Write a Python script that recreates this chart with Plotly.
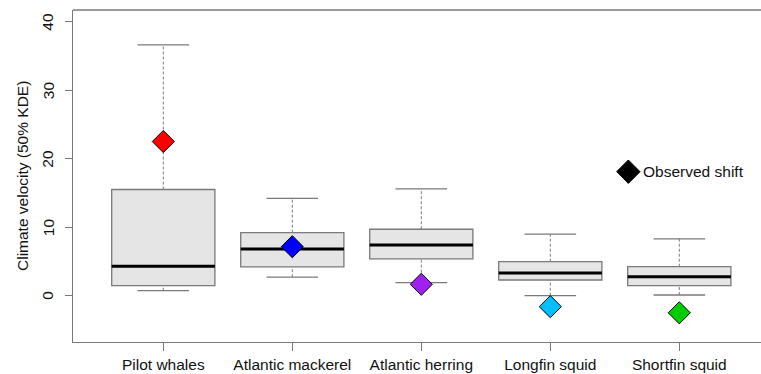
import plotly.graph_objects as go

species = ["Pilot whales", "Atlantic mackerel", "Atlantic herring", "Longfin squid", "Shortfin squid"]
lower_whisker = [0.73, 2.7, 1.9, 0.0, 0.1]
q1 = [1.46, 4.2, 5.36, 2.29, 1.46]
median = [4.3, 6.8, 7.4, 3.3, 2.77]
q3 = [15.5, 9.2, 9.7, 4.96, 4.23]
upper_whisker = [36.6, 14.2, 15.6, 9.0, 8.3]
observed_shift = [22.5, 7.15, 1.66, -1.6, -2.5]
shift_colors = ["#FF0000", "#0000FF", "#A020F0", "#00BFFF", "#00CD00"]
y_ticks = [0, 10, 20, 30, 40]
y_title = "Climate velocity (50% KDE)"
legend_label = "Observed shift"
legend_pos = (4.605, 18.1)

BOX_HALF = 0.4
CAP_HALF = 0.2
GRAY = "#7a7a7a"
TXT = "#111"
FONT = "Liberation Sans, Arial, sans-serif"
FS = 15.5

xs = list(range(1, len(species) + 1))
shapes = []
for i, x in enumerate(xs):
    # whisker stems (dashed)
    shapes.append(dict(type="line", xref="x", yref="y", x0=x, x1=x, y0=q3[i], y1=upper_whisker[i],
                       line=dict(color=GRAY, width=1, dash="3px,2px"), layer="below"))
    shapes.append(dict(type="line", xref="x", yref="y", x0=x, x1=x, y0=lower_whisker[i], y1=q1[i],
                       line=dict(color=GRAY, width=1, dash="3px,2px"), layer="below"))
    # caps
    for v in (upper_whisker[i], lower_whisker[i]):
        shapes.append(dict(type="line", xref="x", yref="y", x0=x - CAP_HALF, x1=x + CAP_HALF, y0=v, y1=v,
                           line=dict(color=GRAY, width=1.3), layer="below"))
    # box
    shapes.append(dict(type="rect", xref="x", yref="y", x0=x - BOX_HALF, x1=x + BOX_HALF, y0=q1[i], y1=q3[i],
                       fillcolor="#E5E5E5", line=dict(color=GRAY, width=1.3), layer="below"))
    # median
    shapes.append(dict(type="line", xref="x", yref="y", x0=x - BOX_HALF, x1=x + BOX_HALF, y0=median[i], y1=median[i],
                       line=dict(color="black", width=3), layer="below"))

# top frame line
shapes.append(dict(type="line", xref="paper", yref="paper", x0=0, x1=1, y0=1, y1=1,
                   line=dict(color=GRAY, width=1.3)))

fig = go.Figure()
fig.add_trace(go.Scatter(
    x=xs, y=observed_shift, mode="markers",
    marker=dict(symbol="diamond", size=17, color=shift_colors, line=dict(color="black", width=1)),
    showlegend=False, hoverinfo="skip"))
fig.add_trace(go.Scatter(
    x=[legend_pos[0]], y=[legend_pos[1]], mode="markers",
    marker=dict(symbol="diamond", size=18, color="black", line=dict(color="black", width=1)),
    showlegend=False, hoverinfo="skip"))

fig.add_annotation(x=legend_pos[0], y=legend_pos[1], xref="x", yref="y", text=legend_label,
                   showarrow=False, xanchor="left", yanchor="middle", xshift=13,
                   font=dict(family=FONT, size=FS, color=TXT))

# y tick labels (rotated, R style)
for t in y_ticks:
    fig.add_annotation(x=0, y=t, xref="paper", yref="y", text=str(t), textangle=-90,
                       showarrow=False, xanchor="center", yanchor="middle", xshift=-25,
                       font=dict(family=FONT, size=FS, color=TXT))
# y title
fig.add_annotation(x=0, y=0.5, xref="paper", yref="paper", text=y_title, textangle=-90,
                   showarrow=False, xanchor="center", yanchor="middle", xshift=-51,
                   font=dict(family=FONT, size=FS, color=TXT))

fig.update_layout(
    width=761, height=374,
    margin=dict(l=73, r=0, t=10, b=32),
    paper_bgcolor="white", plot_bgcolor="white",
    shapes=shapes,
    font=dict(family=FONT, size=FS, color=TXT),
    xaxis=dict(range=[0.3, 0.3 + 688 / 129], tickvals=xs, ticktext=species,
               showgrid=False, zeroline=False, showline=True, linecolor=GRAY, linewidth=1.3,
               ticks="outside", ticklen=8, tickcolor=GRAY, tickwidth=1.3),
    yaxis=dict(range=[-6.76, 41.7], tickvals=y_ticks, showticklabels=False,
               showgrid=False, zeroline=False, showline=True, linecolor=GRAY, linewidth=1.3,
               ticks="outside", ticklen=7, tickcolor=GRAY, tickwidth=1.3),
)

fig.write_html("out.html")
